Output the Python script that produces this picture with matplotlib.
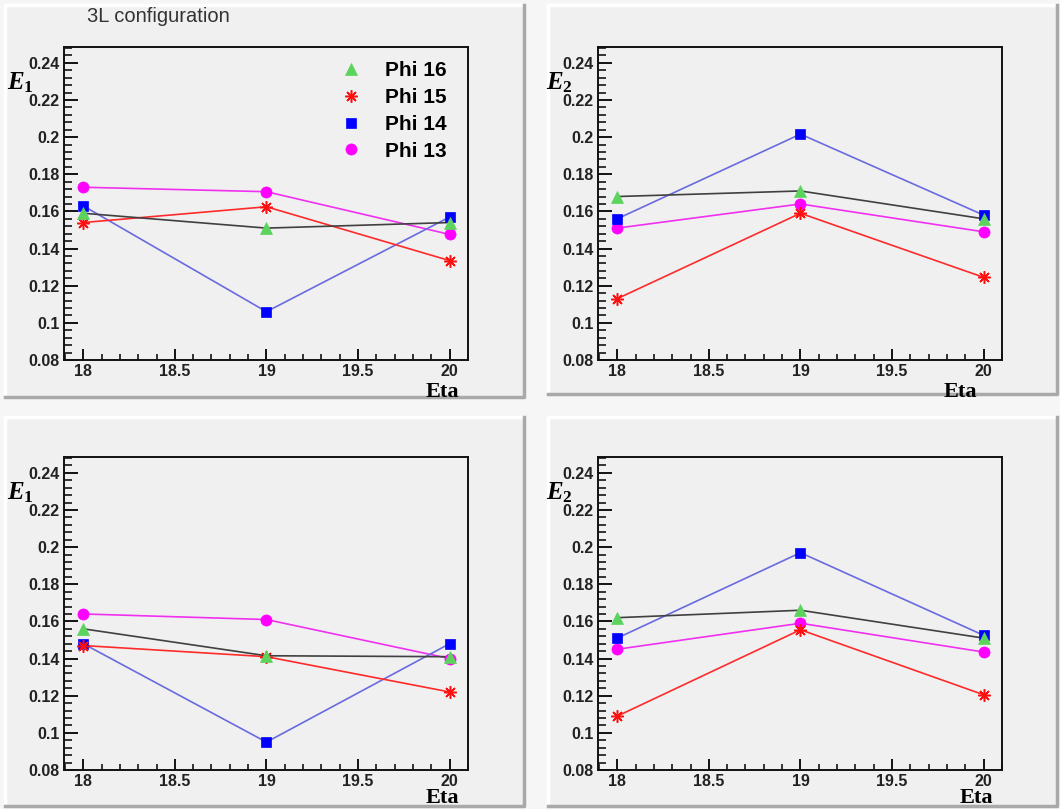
import numpy as np
import matplotlib
matplotlib.use("Agg")
import matplotlib.pyplot as plt
from matplotlib.patches import Rectangle
from matplotlib.lines import Line2D
from matplotlib.ticker import MultipleLocator, FuncFormatter

plt.rcParams['font.family'] = ['Liberation Sans', 'DejaVu Sans']
plt.rcParams['mathtext.fontset'] = 'custom'
plt.rcParams['mathtext.it'] = 'Liberation Serif:italic:bold'
plt.rcParams['mathtext.rm'] = 'Liberation Serif:bold'

eta = [18, 19, 20]
labels = ["Phi 16", "Phi 15", "Phi 14", "Phi 13"]

# top row
phi16_e1_top = [0.159, 0.151, 0.154]
phi15_e1_top = [0.154, 0.1625, 0.1335]
phi14_e1_top = [0.163, 0.106, 0.157]
phi13_e1_top = [0.173, 0.1706, 0.1476]

phi16_e2_top = [0.168, 0.171, 0.156]
phi15_e2_top = [0.113, 0.159, 0.1245]
phi14_e2_top = [0.156, 0.2016, 0.158]
phi13_e2_top = [0.151, 0.164, 0.149]

# bottom row
phi16_e1_bot = [0.156, 0.1415, 0.141]
phi15_e1_bot = [0.147, 0.141, 0.122]
phi14_e1_bot = [0.148, 0.095, 0.148]
phi13_e1_bot = [0.164, 0.161, 0.140]

phi16_e2_bot = [0.162, 0.166, 0.151]
phi15_e2_bot = [0.109, 0.1555, 0.1205]
phi14_e2_bot = [0.151, 0.197, 0.1525]
phi13_e2_bot = [0.145, 0.159, 0.1435]

W, H = 1060, 809
fig = plt.figure(figsize=(W / 100, H / 100), dpi=100, facecolor="#f6f6f6")

# style per series: marker, marker color, line color, size, edge width
styles = {
    "Phi 13": ("o", "#ff00ff", "#f030f0", 8, 0.5),
    "Phi 14": ("s", "#0000ff", "#6a6ae0", 7.5, 0.5),
    "Phi 15": ((8, 2, 0), "#ff1010", "#ff2a2a", 9, 1.1),
    "Phi 16": ("^", "#5cd35c", "#404040", 8, 0.5),
}
draw_order = ["Phi 13", "Phi 14", "Phi 15", "Phi 16"]


def px_rect(x0, y0, x1, y1):
    return [x0 / W, 1 - y1 / H, (x1 - x0) / W, (y1 - y0) / H]


def panel(x0, y0, x1, y1):
    fig.patches.append(Rectangle((x0 / W, 1 - y1 / H), (x1 - x0) / W, (y1 - y0) / H,
                                 transform=fig.transFigure, facecolor="#f0f0f0",
                                 edgecolor="none", zorder=-2))
    # bevel: light top/left, dark bottom/right
    fig.lines.append(Line2D([x0 / W, x0 / W, x1 / W], [1 - y1 / H, 1 - y0 / H, 1 - y0 / H],
                            transform=fig.transFigure, color="white", lw=2.5, zorder=-1))
    fig.lines.append(Line2D([x0 / W, x1 / W, x1 / W], [1 - y1 / H, 1 - y1 / H, 1 - y0 / H],
                            transform=fig.transFigure, color="#a9a9a9", lw=2.5, zorder=-1))


def draw(rect, series, ylab, eta_x, eta_y, ylab_x, ylab_y):
    ax = fig.add_axes(px_rect(*rect))
    ax.set_zorder(2)
    ax.set_facecolor("#f0f0f0")
    for name in draw_order:
        m, mc, lc, ms, mew = styles[name]
        y = series[name]
        ax.plot(eta, y, color=lc, lw=1.2, zorder=2)
        ax.plot(eta, y, linestyle="none", marker=m, color=mc, markersize=ms,
                markeredgewidth=mew, zorder=3)
    ax.set_xlim(17.895, 20.1)
    ax.set_ylim(0.08, 0.2485)
    ax.xaxis.set_major_locator(MultipleLocator(0.5))
    ax.xaxis.set_minor_locator(MultipleLocator(0.1))
    ax.yaxis.set_major_locator(MultipleLocator(0.02))
    ax.yaxis.set_minor_locator(MultipleLocator(0.004))
    fmt = FuncFormatter(lambda v, p: "%g" % round(v, 3))
    ax.xaxis.set_major_formatter(fmt)
    ax.yaxis.set_major_formatter(fmt)
    ax.tick_params(axis="y", which="major", direction="in", length=10, width=1.3,
                   pad=3, labelsize=11.5, labelcolor="#222222")
    ax.tick_params(axis="y", which="minor", direction="in", length=5.5, width=1.1)
    ax.tick_params(axis="x", which="major", direction="in", length=8, width=1.3,
                   pad=3, labelsize=11.5, labelcolor="#222222")
    ax.tick_params(axis="x", which="minor", direction="in", length=4.5, width=1.1)
    for lab in ax.get_xticklabels() + ax.get_yticklabels():
        lab.set_fontweight("bold")
    for s in ax.spines.values():
        s.set_linewidth(1.4)
        s.set_color("#111111")
    fig.text(ylab_x / W, 1 - ylab_y / H, ylab, fontsize=18, va="baseline", ha="left")
    fig.text(eta_x / W, 1 - eta_y / H, "Eta", fontsize=16, fontweight="bold",
             family="Liberation Serif", va="baseline", ha="right")
    return ax


panel(5, 5, 524, 397)
panel(548, 5, 1057, 394)
panel(5, 417, 524, 806)
panel(548, 417, 1057, 806)

ax1 = draw((64, 47, 468, 360),
           {"Phi 16": phi16_e1_top, "Phi 15": phi15_e1_top,
            "Phi 14": phi14_e1_top, "Phi 13": phi13_e1_top},
           r"$E_{\mathit{1}}$", 459, 397, 7, 89)
draw((598, 47, 1002, 360),
     {"Phi 16": phi16_e2_top, "Phi 15": phi15_e2_top,
      "Phi 14": phi14_e2_top, "Phi 13": phi13_e2_top},
     r"$E_{\mathit{2}}$", 977, 397, 546, 89)
draw((64, 457, 468, 770),
     {"Phi 16": phi16_e1_bot, "Phi 15": phi15_e1_bot,
      "Phi 14": phi14_e1_bot, "Phi 13": phi13_e1_bot},
     r"$E_{\mathit{1}}$", 459, 803, 7, 499)
draw((598, 457, 1002, 770),
     {"Phi 16": phi16_e2_bot, "Phi 15": phi15_e2_bot,
      "Phi 14": phi14_e2_bot, "Phi 13": phi13_e2_bot},
     r"$E_{\mathit{2}}$", 993, 803, 546, 499)

fig.text(87 / W, 1 - 22.5 / H, "3L configuration", fontsize=14.5, color="#333333",
         va="baseline", ha="left")

handles = []
for name in labels:
    m, mc, lc, ms, mew = styles[name]
    handles.append(Line2D([], [], linestyle="none", marker=m, color=mc, markersize=ms,
                          markeredgewidth=mew))
leg = ax1.legend(handles, labels, loc="upper left", bbox_to_anchor=(335 / W, 1 - 61 / H),
                 bbox_transform=fig.transFigure, frameon=False, borderpad=0,
                 borderaxespad=0, handlelength=1.5, handletextpad=0.9, labelspacing=0.38,
                 prop={"size": 15, "weight": "bold"})

fig.savefig("out.png", dpi=100, facecolor=fig.get_facecolor())
